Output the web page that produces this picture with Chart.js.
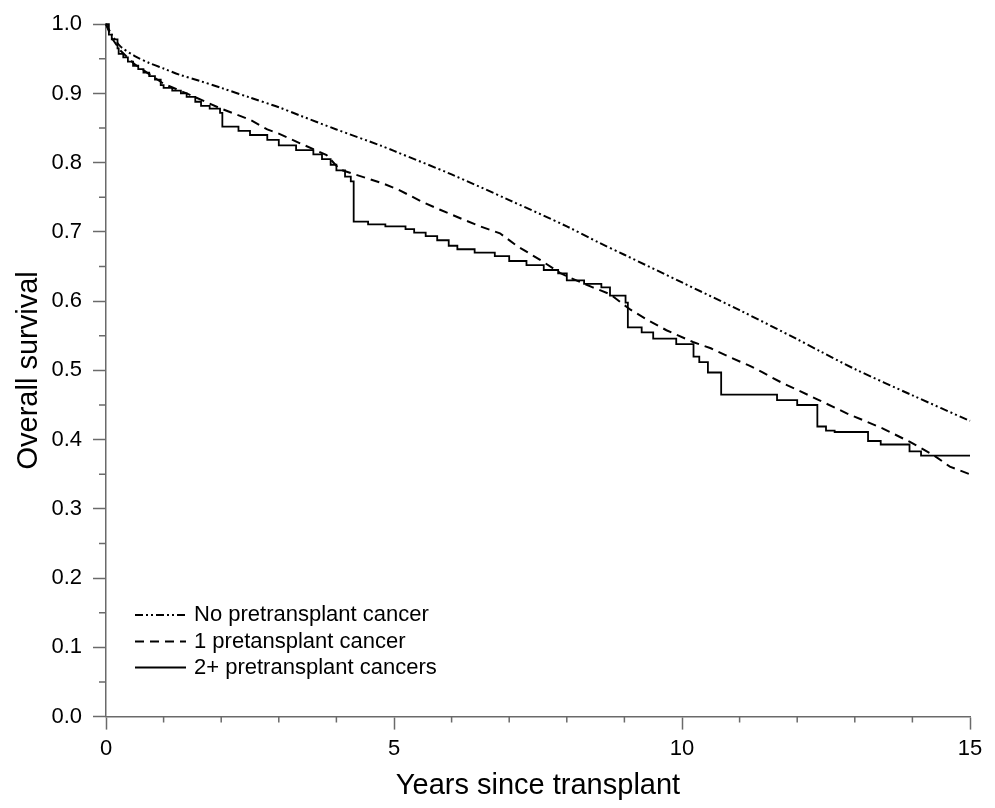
<!DOCTYPE html>
<html>
<head>
<meta charset="utf-8">
<script src="https://cdn.jsdelivr.net/npm/chart.js@4.4.1/dist/chart.umd.min.js"></script>
<style>
  html, body { margin: 0; padding: 0; background: #fff; }
  #wrap { width: 995px; height: 808px; position: relative; }
</style>
</head>
<body>
<div id="wrap"><canvas id="c" width="995" height="808"></canvas></div>
<script>
// ---- Data ----
const seriesLabels = ["No pretransplant cancer", "1 pretansplant cancer", "2+ pretransplant cancers"];

// No pretransplant cancer (smooth curve)
const noCancerYears = [0, 0.1, 0.25, 0.5, 0.75, 1, 1.28, 1.63, 2, 2.5, 3, 3.37, 4, 4.76, 5, 6, 7, 8, 8.57, 9, 10, 11, 12, 12.39, 13, 14, 15];
const noCancerSurv  = [1.0, 0.985, 0.968, 0.954, 0.944, 0.936, 0.927, 0.918, 0.908, 0.894, 0.880, 0.868, 0.848, 0.825, 0.817, 0.783, 0.746, 0.708, 0.684, 0.667, 0.627, 0.587, 0.545, 0.528, 0.502, 0.464, 0.427];

// 1 pretransplant cancer
const oneCancerYears = [0, 0.1, 0.25, 0.5, 0.75, 1, 1.4, 2, 2.5, 2.8, 3, 3.37, 3.83, 4.06, 4.4, 4.81, 5.1, 5.5, 5.8, 6.2, 6.5, 6.84, 7.13, 7.53, 7.88, 8.05, 8.45, 8.75, 9.1, 9.4, 9.73, 10.19, 10.5, 10.83, 11.17, 11.4, 11.76, 12.0, 12.33, 12.86, 13.49, 13.95, 14.36, 14.65, 15];
const oneCancerSurv  = [1.0, 0.98, 0.962, 0.942, 0.928, 0.914, 0.900, 0.878, 0.862, 0.848, 0.842, 0.828, 0.811, 0.790, 0.781, 0.770, 0.760, 0.743, 0.732, 0.718, 0.708, 0.698, 0.680, 0.660, 0.641, 0.634, 0.620, 0.610, 0.588, 0.573, 0.558, 0.541, 0.532, 0.519, 0.507, 0.497, 0.481, 0.472, 0.459, 0.438, 0.416, 0.397, 0.378, 0.361, 0.350];

// 2+ pretransplant cancers (Kaplan-Meier steps: time of drop, value after drop)
const twoCancerYears = [0, 0.05, 0.1, 0.2, 0.22, 0.3, 0.38, 0.47, 0.56, 0.65, 0.75, 0.85, 0.95, 1.0, 1.15, 1.3, 1.4, 1.55, 1.65, 1.8, 1.98, 2.02, 2.3, 2.5, 2.8, 3.0, 3.3, 3.6, 3.75, 3.9, 4.0, 4.15, 4.25, 4.3, 4.55, 4.85, 5.2, 5.35, 5.55, 5.75, 5.95, 6.1, 6.4, 6.75, 7.0, 7.3, 7.6, 7.85, 8.0, 8.3, 8.6, 8.75, 9.02, 9.06, 9.3, 9.5, 9.9, 10.2, 10.3, 10.45, 10.68, 11.65, 12.0, 12.35, 12.5, 12.65, 13.23, 13.45, 13.95, 14.15, 15];
const twoCancerSurv  = [1.0, 0.985, 0.978, 0.965, 0.957, 0.952, 0.946, 0.940, 0.935, 0.930, 0.925, 0.920, 0.912, 0.908, 0.904, 0.900, 0.895, 0.888, 0.882, 0.878, 0.872, 0.852, 0.846, 0.840, 0.833, 0.825, 0.818, 0.812, 0.805, 0.797, 0.789, 0.780, 0.773, 0.715, 0.711, 0.708, 0.704, 0.699, 0.694, 0.688, 0.680, 0.675, 0.670, 0.665, 0.658, 0.652, 0.645, 0.640, 0.630, 0.625, 0.620, 0.608, 0.598, 0.562, 0.555, 0.546, 0.538, 0.520, 0.512, 0.497, 0.465, 0.457, 0.450, 0.419, 0.413, 0.411, 0.398, 0.393, 0.383, 0.377, 0.377];

const xTickValues = [0, 5, 10, 15];
const yTickValues = [0.0, 0.1, 0.2, 0.3, 0.4, 0.5, 0.6, 0.7, 0.8, 0.9, 1.0];
const xMinorTicks = [1, 2, 3, 4, 6, 7, 8, 9, 11, 12, 13, 14];
const yMinorTicks = [0.05, 0.15, 0.25, 0.35, 0.45, 0.55, 0.65, 0.75, 0.85, 0.95];

const xTitle = "Years since transplant";
const yTitle = "Overall survival";

function pts(xs, ys) { return xs.map((x, i) => ({ x: x, y: ys[i] })); }

const FONT = "'Liberation Sans', Arial, sans-serif";
const AXIS_COLOR = '#6a6a6a';

// Minor ticks + legend plugin
const extrasPlugin = {
  id: 'extras',
  afterDraw(chart) {
    const ctx = chart.ctx;
    const xs = chart.scales.x, ys = chart.scales.y;
    ctx.save();
    ctx.strokeStyle = AXIS_COLOR;
    ctx.lineWidth = 1.5;
    ctx.beginPath();
    xMinorTicks.forEach(v => {
      const px = xs.getPixelForValue(v);
      ctx.moveTo(px, ys.bottom); ctx.lineTo(px, ys.bottom + 6);
    });
    yMinorTicks.forEach(v => {
      const py = ys.getPixelForValue(v);
      ctx.moveTo(xs.left, py); ctx.lineTo(xs.left - 7, py);
    });
    ctx.stroke();

    // legend
    const lx0 = 135, lx1 = 186, tx = 194;
    const rows = [615, 641.5, 667.5];
    chart.data.datasets.forEach((ds, i) => {
      ctx.strokeStyle = '#000';
      ctx.lineWidth = ds.borderWidth;
      ctx.setLineDash(ds.borderDash || []);
      ctx.beginPath();
      ctx.moveTo(lx0, rows[i]); ctx.lineTo(lx1, rows[i]);
      ctx.stroke();
      ctx.setLineDash([]);
      ctx.fillStyle = '#000';
      ctx.font = '22px ' + FONT;
      ctx.textBaseline = 'middle';
      ctx.textAlign = 'left';
      ctx.fillText(ds.label, tx, rows[i]);
    });
    ctx.restore();
  }
};

new Chart(document.getElementById('c'), {
  type: 'line',
  data: {
    datasets: [
      {
        label: seriesLabels[0],
        data: pts(noCancerYears, noCancerSurv),
        borderColor: '#000',
        borderWidth: 2,
        borderDash: [8, 3, 2, 3, 2, 3],
        pointRadius: 0,
        tension: 0.3,
        clip: 4
      },
      {
        label: seriesLabels[1],
        data: pts(oneCancerYears, oneCancerSurv),
        borderColor: '#000',
        borderWidth: 2,
        borderDash: [9, 6],
        pointRadius: 0,
        tension: 0,
        clip: 4
      },
      {
        label: seriesLabels[2],
        data: pts(twoCancerYears, twoCancerSurv),
        borderColor: '#000',
        borderWidth: 1.8,
        stepped: 'before',
        pointRadius: 0,
        clip: 4
      }
    ]
  },
  options: {
    responsive: false,
    animation: false,
    devicePixelRatio: 1,
    layout: { padding: { left: 0, right: 25, top: 20, bottom: 0 } },
    plugins: {
      legend: { display: false },
      tooltip: { enabled: false }
    },
    scales: {
      x: {
        type: 'linear',
        min: 0, max: 15,
        afterBuildTicks: (s) => { s.ticks = xTickValues.map(v => ({ value: v })); },
        afterFit: (s) => { s.height = 91.4; },
        border: { display: true, color: AXIS_COLOR, width: 1.5 },
        grid: { drawOnChartArea: false, drawTicks: true, tickLength: 13, tickColor: AXIS_COLOR, tickWidth: 1.5 },
        ticks: {
          color: '#000',
          font: { family: FONT, size: 22 },
          padding: 6,
          maxRotation: 0,
          callback: (v) => String(v)
        },
        title: {
          display: true,
          text: xTitle,
          color: '#000',
          font: { family: FONT, size: 29 },
          padding: { top: 2, bottom: 5 }
        }
      },
      y: {
        type: 'linear',
        min: 0, max: 1,
        afterBuildTicks: (s) => { s.ticks = yTickValues.map(v => ({ value: v })); },
        afterFit: (s) => { s.width = 106; },
        border: { display: true, color: AXIS_COLOR, width: 1.5 },
        grid: { drawOnChartArea: false, drawTicks: true, tickLength: 13, tickColor: AXIS_COLOR, tickWidth: 1.5 },
        ticks: {
          color: '#000',
          font: { family: FONT, size: 22 },
          padding: 11,
          callback: (v) => Number(v).toFixed(1)
        },
        title: {
          display: true,
          text: yTitle,
          color: '#000',
          font: { family: FONT, size: 29 },
          padding: { top: 12, bottom: 0 }
        }
      }
    }
  },
  plugins: [extrasPlugin]
});
</script>
</body>
</html>
